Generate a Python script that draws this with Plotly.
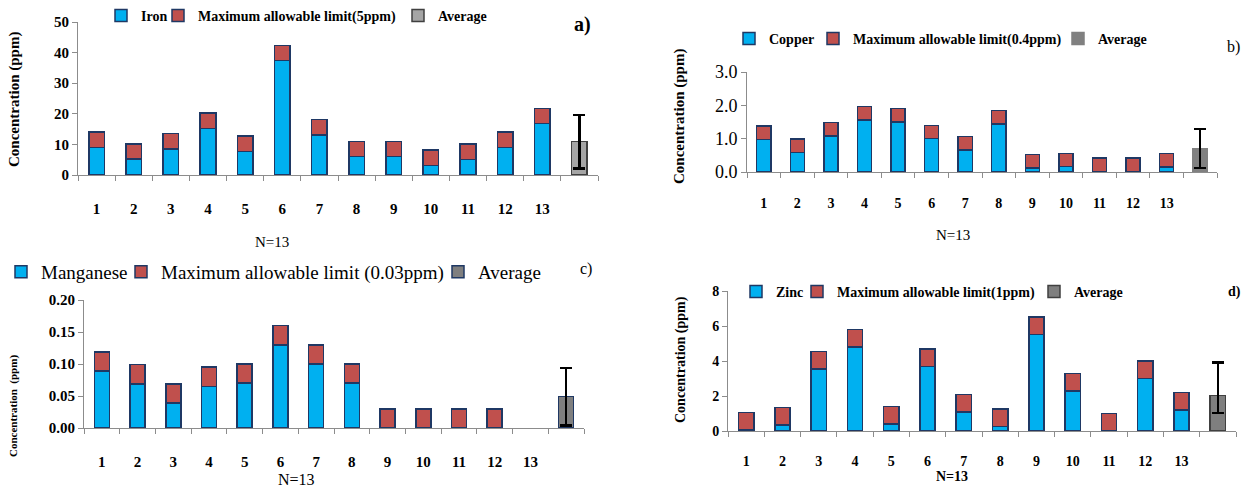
import plotly.graph_objects as go

W, H = 1247, 490
SERIF = "Liberation Serif"

# ---------------- data ----------------
categories = ["1", "2", "3", "4", "5", "6", "7", "8", "9", "10", "11", "12", "13"]
avg_category = [" "]

iron = [9.0, 5.2, 8.5, 15.2, 7.7, 37.4, 13.1, 6.0, 6.0, 3.1, 5.1, 9.0, 16.8]
iron_limit = [5, 5, 5, 5, 5, 5, 5, 5, 5, 5, 5, 5, 5]
iron_avg = [10.9]
iron_err_plus = [8.8]
iron_err_minus = [8.8]

copper = [0.98, 0.59, 1.08, 1.56, 1.50, 1.00, 0.66, 1.44, 0.12, 0.16, 0.02, 0.02, 0.15]
copper_limit = [0.4, 0.4, 0.4, 0.4, 0.4, 0.4, 0.4, 0.4, 0.4, 0.4, 0.4, 0.4, 0.4]
copper_avg = [0.71]
copper_err_plus = [0.58]
copper_err_minus = [0.58]

manganese = [0.089, 0.069, 0.039, 0.065, 0.070, 0.130, 0.100, 0.070, None, None, None, None, None]
manganese_limit = [0.03, 0.03, 0.03, 0.03, 0.03, 0.03, 0.03, 0.03, 0.03, 0.03, 0.03, 0.03, None]
manganese_avg = [0.049]
manganese_err_plus = [0.045]
manganese_err_minus = [0.045]

zinc = [0.06, 0.34, 3.54, 4.81, 0.40, 3.70, 1.10, 0.25, 5.51, 2.28, None, 3.00, 1.20]
zinc_limit = [1, 1, 1, 1, 1, 1, 1, 1, 1, 1, 1, 1, 1]
zinc_avg = [2.03]
zinc_err_plus = [1.89]
zinc_err_minus = [0.98]

BLUE = "#00B0F0"
RED = "#C0504D"
NAVY = "#1F3864"
AXIS = "#8C8C8C"

panels = [
    dict(n="", metal="Iron", limit_name="Maximum allowable limit(5ppm)",
         vals=iron, lim=iron_limit, avg=iron_avg, ep=iron_err_plus, em=iron_err_minus,
         xd=(78, 598), yd=(22, 175), yr=[0, 50], dtick=10, fmt="d",
         ytick_font=dict(family=SERIF, size=15, color="black", weight="bold"),
         xtick_font=dict(family=SERIF, size=15, color="black", weight="bold"),
         standoff=20,
         avg_fill="#A5A5A5", avg_line="#404040",
         leg_font=dict(family=SERIF, size=14, color="black", weight="bold"),
         leg_marks=[128, 185, 425], leg_y=16,
         ytitle=dict(text="Concentration (ppm)", x=14, y=100, size=15, weight="bold"),
         ntitle=dict(x=272, y=242, size=15, weight="normal"),
         letter=dict(text="a)", x=582, y=25, size=20, weight="bold")),
    dict(n="2", metal="Copper", limit_name="Maximum allowable limit(0.4ppm)",
         vals=copper, lim=copper_limit, avg=copper_avg, ep=copper_err_plus, em=copper_err_minus,
         xd=(747, 1217), yd=(72, 172), yr=[0, 3], dtick=1, fmt=".1f",
         ytick_font=dict(family=SERIF, size=18, color="black", weight="normal"),
         xtick_font=dict(family=SERIF, size=14, color="black", weight="bold"),
         standoff=18,
         avg_fill="#808080", avg_line="#808080",
         leg_font=dict(family=SERIF, size=14, color="black", weight="bold"),
         leg_marks=[756, 840, 1085], leg_y=39,
         ytitle=dict(text="Concentration (ppm)", x=680, y=117, size=15, weight="bold"),
         ntitle=dict(x=953, y=235, size=15, weight="normal"),
         letter=dict(text="b)", x=1233, y=47, size=16, weight="normal")),
    dict(n="3", metal="Manganese", limit_name="Maximum allowable limit (0.03ppm)",
         vals=manganese, lim=manganese_limit, avg=manganese_avg, ep=manganese_err_plus, em=manganese_err_minus,
         xd=(84, 584), yd=(300, 428), yr=[0, 0.2], dtick=0.05, fmt=".2f",
         ytick_font=dict(family=SERIF, size=15, color="black", weight="bold"),
         xtick_font=dict(family=SERIF, size=15, color="black", weight="bold"),
         standoff=20,
         avg_fill="#7F7F7F", avg_line=NAVY,
         leg_font=dict(family=SERIF, size=19, color="black", weight="normal"),
         leg_marks=[28, 148, 465], leg_y=272,
         ytitle=dict(text="Concentration  (ppm)", x=13, y=406, size=11, weight="bold"),
         ntitle=dict(x=296, y=479, size=16, weight="normal"),
         letter=dict(text="c)", x=586, y=269, size=16, weight="normal")),
    dict(n="4", metal="Zinc", limit_name="Maximum allowable limit(1ppm)",
         vals=zinc, lim=zinc_limit, avg=zinc_avg, ep=zinc_err_plus, em=zinc_err_minus,
         xd=(728, 1236), yd=(291, 431), yr=[0, 8], dtick=2, fmt="d",
         ytick_font=dict(family=SERIF, size=14, color="black", weight="bold"),
         xtick_font=dict(family=SERIF, size=14, color="black", weight="bold"),
         standoff=17,
         avg_fill="#7F7F7F", avg_line="#404040",
         leg_font=dict(family=SERIF, size=14, color="black", weight="bold"),
         leg_marks=[763, 824, 1061], leg_y=292,
         ytitle=dict(text="Concentration (ppm)", x=681, y=360, size=14, weight="bold"),
         ntitle=dict(x=952, y=476, size=14, weight="bold"),
         letter=dict(text="d)", x=1234, y=292, size=14, weight="bold")),
]

fig = go.Figure()
layout = dict(
    width=W, height=H, margin=dict(l=0, r=0, t=0, b=0, autoexpand=False),
    paper_bgcolor="white", plot_bgcolor="white",
    barmode="stack", bargap=0.58, showlegend=True,
    annotations=[],
)

leg_idx = 1
for p in panels:
    xa = "x" + p["n"]
    ya = "y" + p["n"]
    legs = []
    for k in range(3):
        lid = "legend" if leg_idx == 1 else f"legend{leg_idx}"
        legs.append(lid)
        leg_idx += 1
    line = dict(color=NAVY, width=1.5)
    fig.add_trace(go.Bar(x=categories, y=p["vals"], name=p["metal"], xaxis=xa, yaxis=ya,
                         marker=dict(color=BLUE, line=line), legend=legs[0]))
    fig.add_trace(go.Bar(x=categories, y=p["lim"], name=p["limit_name"], xaxis=xa, yaxis=ya,
                         marker=dict(color=RED, line=line), legend=legs[1]))
    fig.add_trace(go.Bar(x=avg_category, y=p["avg"], name="Average", xaxis=xa, yaxis=ya,
                         marker=dict(color=p["avg_fill"], line=dict(color=p["avg_line"], width=1.5)),
                         error_y=dict(type="data", symmetric=False, array=p["ep"], arrayminus=p["em"],
                                      color="black", thickness=2.2, width=6),
                         legend=legs[2]))
    for lid, mx in zip(legs, p["leg_marks"]):
        layout[lid] = dict(orientation="h", x=(mx - 27) / W, xanchor="left",
                           y=1 - p["leg_y"] / H, yanchor="middle",
                           font=p["leg_font"], bgcolor="rgba(0,0,0,0)",
                           borderwidth=0)
    axkey = "xaxis" + p["n"]
    aykey = "yaxis" + p["n"]
    layout[axkey] = dict(
        domain=[p["xd"][0] / W, p["xd"][1] / W], anchor=ya, type="category",
        categoryorder="array", categoryarray=categories + avg_category,
        tickson="boundaries", ticks="outside", ticklen=5, tickcolor=AXIS,
        showline=True, linecolor=AXIS, linewidth=1, showgrid=False, zeroline=False,
        tickfont=p["xtick_font"], ticklabelstandoff=p["standoff"], fixedrange=True,
    )
    layout[aykey] = dict(
        domain=[1 - p["yd"][1] / H, 1 - p["yd"][0] / H], anchor=xa,
        range=p["yr"], dtick=p["dtick"], tick0=0, tickformat=p["fmt"],
        ticks="outside", ticklen=5, tickcolor=AXIS, showline=True, linecolor=AXIS,
        linewidth=1, showgrid=False, zeroline=False, tickfont=p["ytick_font"], fixedrange=True,
    )
    t = p["ytitle"]
    layout["annotations"].append(dict(
        text=t["text"], textangle=-90, xref="paper", yref="paper",
        x=t["x"] / W, y=1 - t["y"] / H, xanchor="center", yanchor="middle", showarrow=False,
        font=dict(family=SERIF, size=t["size"], color="black", weight=t["weight"])))
    nt = p["ntitle"]
    layout["annotations"].append(dict(
        text="N=13", xref="paper", yref="paper", x=nt["x"] / W, y=1 - nt["y"] / H,
        xanchor="center", yanchor="middle", showarrow=False,
        font=dict(family=SERIF, size=nt["size"], color="black", weight=nt["weight"])))
    lt = p["letter"]
    layout["annotations"].append(dict(
        text=lt["text"], xref="paper", yref="paper", x=lt["x"] / W, y=1 - lt["y"] / H,
        xanchor="center", yanchor="middle", showarrow=False,
        font=dict(family=SERIF, size=lt["size"], color="black", weight=lt["weight"])))

fig.update_layout(**layout)
fig.write_html("out.html", config={"displayModeBar": False},
               post_script="document.body.style.margin='0';document.body.style.overflow='hidden';")
